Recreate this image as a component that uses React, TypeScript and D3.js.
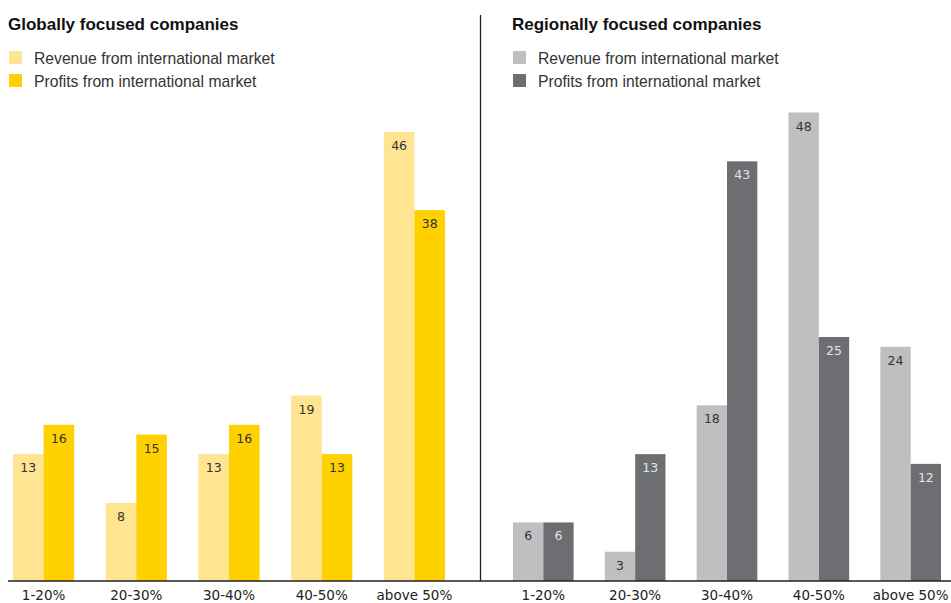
import React, { useEffect, useRef } from 'react';
import * as d3 from 'd3';

const categories = ['1-20%', '20-30%', '30-40%', '40-50%', 'above 50%'];
const seriesNames = ['Revenue from international market', 'Profits from international market'];

const globalRevenue = [13, 8, 13, 19, 46];
const globalProfits = [16, 15, 16, 13, 38];
const regionalRevenue = [6, 3, 18, 48, 24];
const regionalProfits = [6, 13, 43, 25, 12];

const W = 951;
const H = 603;

export default function App() {
  const svgRef = useRef<SVGSVGElement>(null);

  useEffect(() => {
    document.body.style.margin = '0';
    if (!svgRef.current) return;
    const svg = d3.select(svgRef.current);
    svg.selectAll('*').remove();

    const baseline = 581;
    const y = d3.scaleLinear().domain([0, 50]).range([baseline, baseline - 488]);

    const panels = [
      {
        title: 'Globally focused companies',
        x0: 8,
        x1: 480,
        barRange: [13, 445],
        values: [globalRevenue, globalProfits],
        colors: ['#ffe591', '#ffd100'],
        labelColors: ['#333333', '#333333'],
      },
      {
        title: 'Regionally focused companies',
        x0: 480,
        x1: 951,
        barRange: [513, 941],
        values: [regionalRevenue, regionalProfits],
        colors: ['#bebfc1', '#6d6e71'],
        labelColors: ['#333333', '#e4e4e4'],
      },
    ];

    panels.forEach((p, pi) => {
      const g = svg.append('g');
      const tx = pi === 0 ? 8 : 512;

      g.append('text')
        .attr('x', tx)
        .attr('y', 30)
        .attr('font-family', "'Liberation Sans', Arial, sans-serif")
        .attr('font-size', '17px')
        .attr('font-weight', '700')
        .attr('fill', '#111')
        .text(p.title);

      seriesNames.forEach((name, si) => {
        const ly = 51 + si * 23;
        g.append('rect')
          .attr('x', tx + 1)
          .attr('y', ly)
          .attr('width', 13)
          .attr('height', 13)
          .attr('fill', p.colors[si]);
        g.append('text')
          .attr('x', tx + 26)
          .attr('y', ly + 13)
          .attr('font-family', "'Liberation Sans', Arial, sans-serif")
          .attr('font-size', '15.7px')
          .attr('fill', '#333')
          .text(name);
      });

      const x = d3.scaleBand<string>()
        .domain(categories)
        .range(p.barRange as [number, number])
        .paddingInner(0.34)
        .paddingOuter(0);
      const xs = d3.scaleBand<number>()
        .domain([0, 1])
        .range([0, x.bandwidth()])
        .padding(0);

      p.values.forEach((vals, si) => {
        const bars = g.append('g');
        bars.selectAll('rect')
          .data(vals)
          .enter().append('rect')
          .attr('x', (d, i) => (x(categories[i]) || 0) + (xs(si) || 0))
          .attr('y', d => y(d))
          .attr('width', xs.bandwidth())
          .attr('height', d => baseline - y(d))
          .attr('fill', p.colors[si]);
        bars.selectAll('text')
          .data(vals)
          .enter().append('text')
          .attr('x', (d, i) => (x(categories[i]) || 0) + (xs(si) || 0) + xs.bandwidth() / 2)
          .attr('y', d => y(d) + 18)
          .attr('text-anchor', 'middle')
          .attr('font-family', "'DejaVu Sans', Verdana, sans-serif")
          .attr('font-size', '12.5px')
          .attr('fill', p.labelColors[si])
          .text(d => d);
      });

      // axis
      const axis = g.append('g')
        .attr('transform', `translate(0,${baseline})`)
        .call(d3.axisBottom(x).tickSize(0).tickPadding(9));
      axis.select('.domain').remove();
      axis.append('line')
        .attr('x1', p.x0)
        .attr('x2', p.x1)
        .attr('stroke', '#222')
        .attr('stroke-width', 1.5);
      axis.selectAll('text')
        .attr('font-family', "'DejaVu Sans', Verdana, sans-serif")
        .attr('font-size', '13.5px')
        .attr('fill', '#222');
    });

    // divider
    svg.append('line')
      .attr('x1', 480.5)
      .attr('x2', 480.5)
      .attr('y1', 15)
      .attr('y2', baseline)
      .attr('stroke', '#222')
      .attr('stroke-width', 1.3);
  }, []);

  return (
    <svg
      ref={svgRef}
      width={W}
      height={H}
      viewBox={`0 0 ${W} ${H}`}
      style={{ display: 'block', background: '#fff' }}
    />
  );
}
